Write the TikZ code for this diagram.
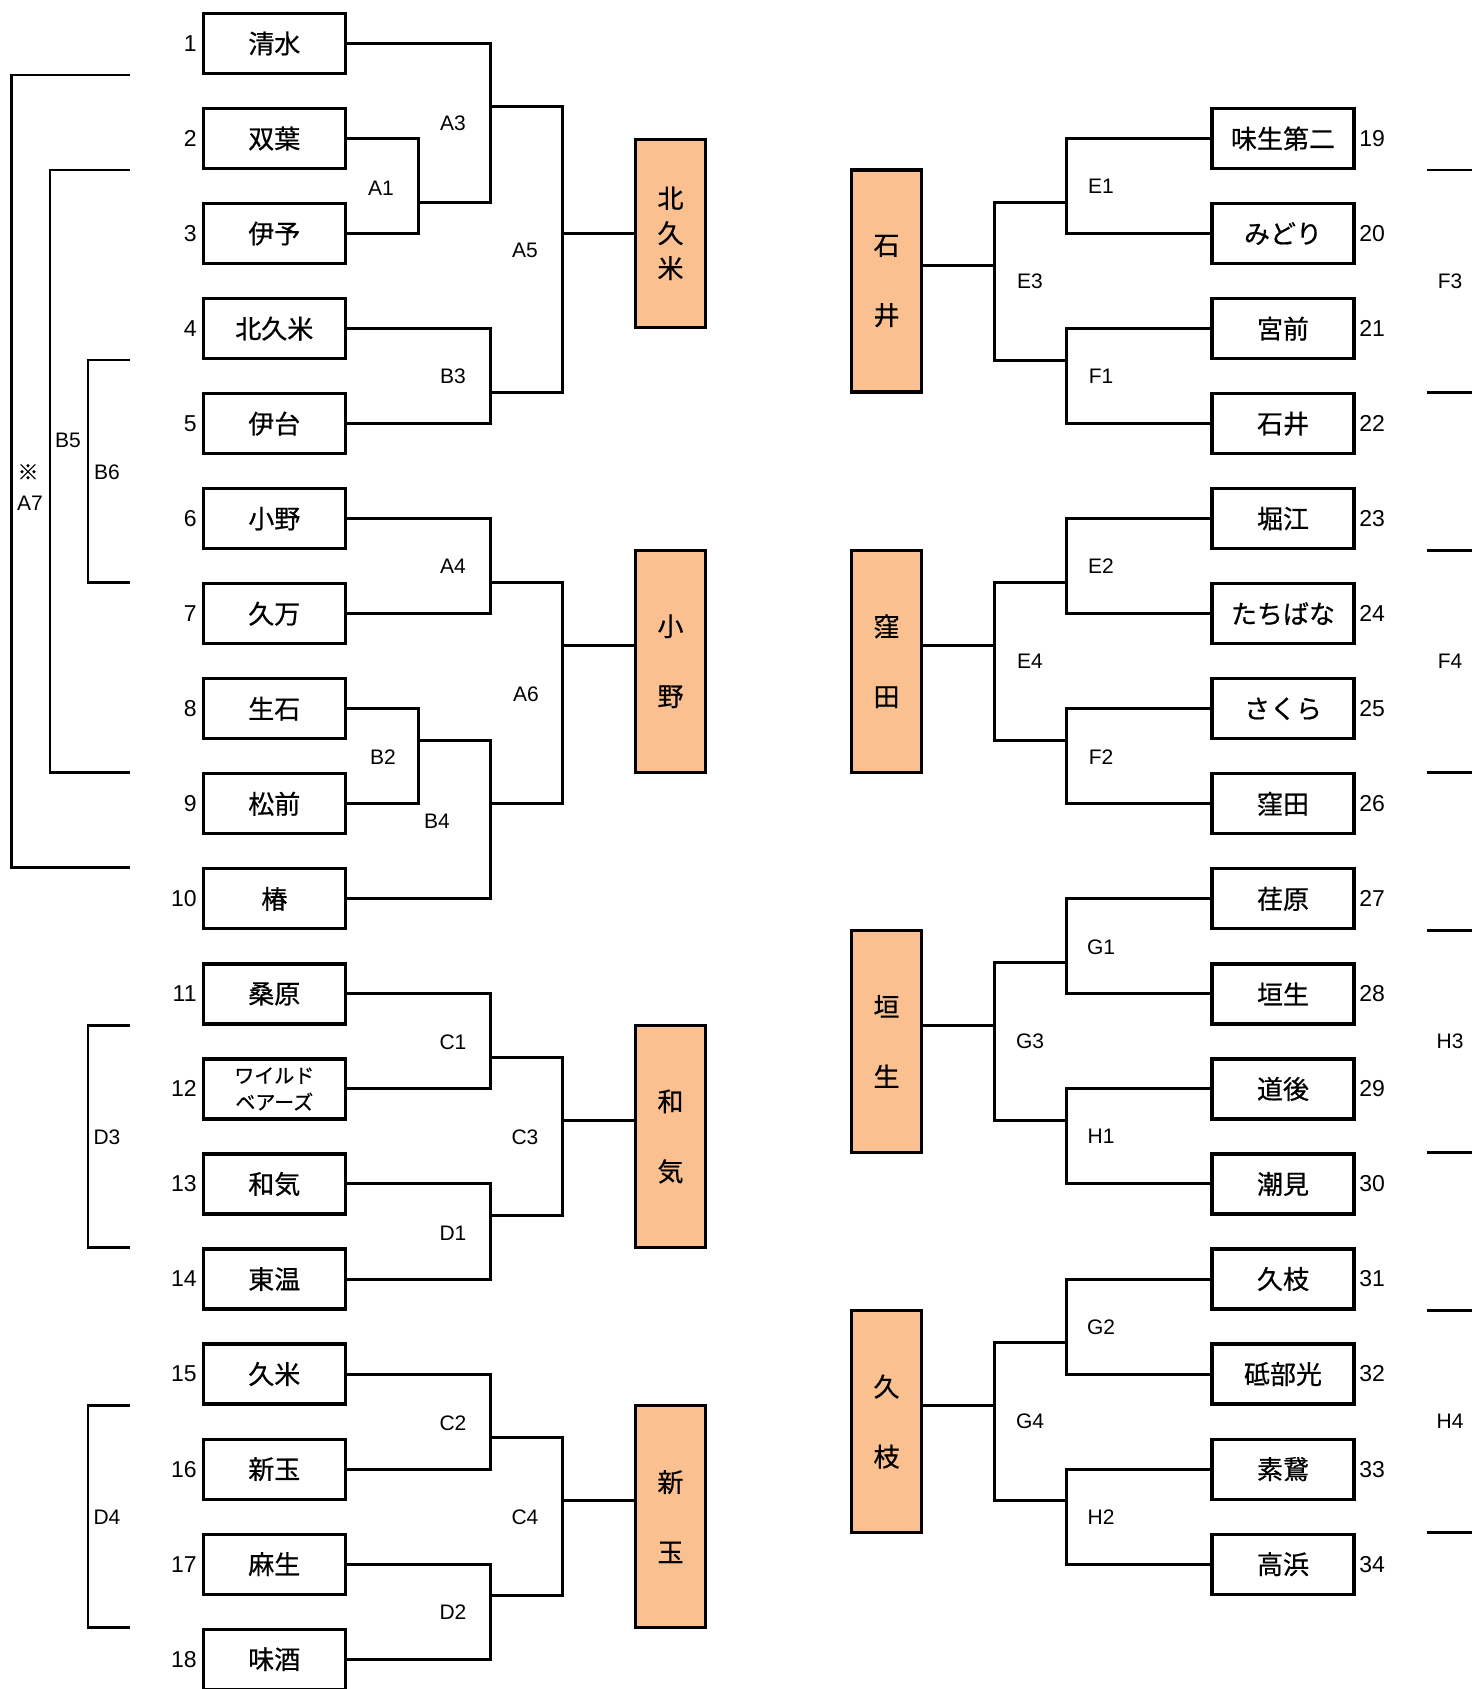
\documentclass[tikz,border=0pt]{standalone}
\usepackage{fontspec}
\setmainfont{Liberation Sans}
\newfontfamily\jp[FakeBold=0.6]{Noto Sans CJK JP}
\definecolor{orangefill}{HTML}{FAC090}
\begin{document}
\begin{tikzpicture}[x=0.5pt,y=-0.5pt,
  team/.style={draw, line width=1.6pt, minimum width=71pt, minimum height=30pt, inner sep=0pt, font=\jp\fontsize{13}{15}\selectfont, align=center},
  winner/.style={draw, line width=1.6pt, fill=orangefill, minimum width=35pt, inner sep=0pt, font=\jp\fontsize{13}{17.5}\selectfont, align=center},
  num/.style={font=\fontsize{11.5}{13}\selectfont, inner sep=0pt},
  lbl/.style={font=\fontsize{10.5}{12}\selectfont, inner sep=0pt},
  br/.style={line width=1.5pt},
  fbr/.style={line width=1.35pt}
]
\useasboundingbox (0,0) rectangle (1471,1689);
\fill[white] (0,0) rectangle (1471,1689);

% ---------- team boxes, left ----------
\foreach \i/\n in {1/清水,2/双葉,3/伊予,4/北久米,5/伊台,6/小野,7/久万,8/生石,9/松前,10/椿,11/桑原,13/和気,14/東温,15/久米,16/新玉,17/麻生,18/味酒}{
  \node[team] (t\i) at (274.3,{43.5+95.04*(\i-1)}) {\n};
  \node[num,anchor=east] (n\i) at (197,{43.5+95.04*(\i-1)}) {\i};
}
\node[team,font=\jp\fontsize{10}{13.3}\selectfont] (t12) at (274.3,{43.5+95.04*11}) {ワイルド\\ベアーズ};
\node[num,anchor=east] (n12) at (197,{43.5+95.04*11}) {12};

% ---------- team boxes, right ----------
\foreach \i/\n in {19/味生第二,20/みどり,21/宮前,22/石井,23/堀江,24/たちばな,25/さくら,26/窪田,27/荏原,28/垣生,29/道後,30/潮見,31/久枝,32/砥部光,33/素鵞,34/高浜}{
  \node[team] (t\i) at (1283,{43.5+95.04*(\i-18)}) {\n};
  \node[num,anchor=west] (n\i) at (1359,{43.5+95.04*(\i-18)}) {\i};
}

% ---------- winner boxes ----------
\node[winner, minimum height=94pt] (w1) at (670.5,233.4) {北\\久\\米};
\node[winner, minimum height=111pt] (w2) at (670.5,661.3) {小\\[17.5pt]野};
\node[winner, minimum height=111pt] (w3) at (670.5,1136.5) {和\\[17.5pt]気};
\node[winner, minimum height=111pt] (w4) at (670.5,1516.6) {新\\[17.5pt]玉};
\node[winner, minimum height=111pt] (w5) at (886.5,281.1) {石\\[17.5pt]井};
\node[winner, minimum height=111pt] (w6) at (886.5,661.3) {窪\\[17.5pt]田};
\node[winner, minimum height=111pt] (w7) at (886.5,1041.4) {垣\\[17.5pt]生};
\node[winner, minimum height=111pt] (w8) at (886.5,1421.6) {久\\[17.5pt]枝};

% ---------- left brackets ----------
\coordinate (A1) at (418,202.1);
\coordinate (A3) at (490,107);
\coordinate (B3) at (490,392.2);
\coordinate (A5) at (562,233.6);
\draw[br] (t2.east) -| (A1) |- (t3.east);
\draw[br] (t1.east) -| (A3) |- (A1);
\draw[br] (t4.east) -| (B3) |- (t5.east);
\draw[br] (A3) -| (A5) |- (B3);
\draw[br] (A5) -- (A5 -| w1.west);

\coordinate (A4) at (490,582.2);
\coordinate (B2) at (418,740.3);
\coordinate (B4) at (490,803.8);
\coordinate (A6) at (562,645.2);
\draw[br] (t6.east) -| (A4) |- (t7.east);
\draw[br] (t8.east) -| (B2) |- (t9.east);
\draw[br] (B2) -| (B4) |- (t10.east);
\draw[br] (A4) -| (A6) |- (B4);
\draw[br] (A6) -- (A6 -| w2.west);

\coordinate (C1) at (490,1057.4);
\coordinate (D1) at (490,1215.5);
\coordinate (C3) at (562,1120.4);
\draw[br] (t11.east) -| (C1) |- (t12.east);
\draw[br] (t13.east) -| (D1) |- (t14.east);
\draw[br] (C1) -| (C3) |- (D1);
\draw[br] (C3) -- (C3 -| w3.west);

\coordinate (C2) at (490,1437.6);
\coordinate (D2) at (490,1595.6);
\coordinate (C4) at (562,1500.6);
\draw[br] (t15.east) -| (C2) |- (t16.east);
\draw[br] (t17.east) -| (D2) |- (t18.east);
\draw[br] (C2) -| (C4) |- (D2);
\draw[br] (C4) -- (C4 -| w4.west);

% ---------- right brackets ----------
\coordinate (E1) at (1066,202.1);
\coordinate (F1) at (1066,360.1);
\coordinate (E3) at (994,265.1);
\draw[br] (t19.west) -| (E1) |- (t20.west);
\draw[br] (t21.west) -| (F1) |- (t22.west);
\draw[br] (E1) -| (E3) |- (F1);
\draw[br] (E3) -- (E3 -| w5.east);

\coordinate (E2) at (1066,582.2);
\coordinate (F2) at (1066,740.3);
\coordinate (E4) at (994,645.2);
\draw[br] (t23.west) -| (E2) |- (t24.west);
\draw[br] (t25.west) -| (F2) |- (t26.west);
\draw[br] (E2) -| (E4) |- (F2);
\draw[br] (E4) -- (E4 -| w6.east);

\coordinate (G1) at (1066,962.4);
\coordinate (H1) at (1066,1120.4);
\coordinate (G3) at (994,1025.4);
\draw[br] (t27.west) -| (G1) |- (t28.west);
\draw[br] (t29.west) -| (H1) |- (t30.west);
\draw[br] (G1) -| (G3) |- (H1);
\draw[br] (G3) -- (G3 -| w7.east);

\coordinate (G2) at (1066,1342.6);
\coordinate (H2) at (1066,1500.6);
\coordinate (G4) at (994,1405.6);
\draw[br] (t31.west) -| (G2) |- (t32.west);
\draw[br] (t33.west) -| (H2) |- (t34.west);
\draw[br] (G2) -| (G4) |- (H2);
\draw[br] (G4) -- (G4 -| w8.east);

% ---------- far left brackets ----------
\coordinate (A7a) at (130,75);     \coordinate (A7b) at (130,867.4);
\coordinate (B5a) at (130,170);    \coordinate (B5b) at (130,772.3);
\coordinate (B6a) at (130,360.1);  \coordinate (B6b) at (130,582.2);
\coordinate (D3a) at (130,1025.4); \coordinate (D3b) at (130,1247.5);
\coordinate (D4a) at (130,1405.6); \coordinate (D4b) at (130,1627.7);
\draw[fbr] (A7a) -- (11.5,75) -- (11.5,867.4) -- (A7b);
\draw[fbr] (B5a) -- (50,170) -- (50,772.3) -- (B5b);
\draw[fbr] (B6a) -- (88,360.1) -- (88,582.2) -- (B6b);
\draw[fbr] (D3a) -- (88,1025.4) -- (88,1247.5) -- (D3b);
\draw[fbr] (D4a) -- (88,1405.6) -- (88,1627.7) -- (D4b);

% ---------- far right lines ----------
\foreach \k/\y in {1/170,2/392.2,3/550.2,4/772.3,5/930.4,6/1152.5,7/1310.5,8/1532.6}{
  \coordinate (R\k a) at (1427,\y);
  \coordinate (R\k b) at (1474,\y);
  \draw[fbr] (R\k a) -- (R\k b);
}

% ---------- labels ----------
\node[lbl] (lA3) at (453,123) {A3};
\node[lbl] (lA1) at (381,188) {A1};
\node[lbl] (lA5) at (525,250) {A5};
\node[lbl] (lB3) at (453,376) {B3};
\node[lbl] (lA4) at (453,566) {A4};
\node[lbl] (lA6) at (526,694) {A6};
\node[lbl] (lB2) at (383,757) {B2};
\node[lbl] (lB4) at (437,821) {B4};
\node[lbl] (lC1) at (453,1042) {C1};
\node[lbl] (lC3) at (525,1137) {C3};
\node[lbl] (lD1) at (453,1233) {D1};
\node[lbl] (lC2) at (453,1423) {C2};
\node[lbl] (lC4) at (525,1517) {C4};
\node[lbl] (lD2) at (453,1612) {D2};

\node[lbl,font=\jp\fontsize{10.5}{12}\selectfont] (lmark) at (28,472) {※};
\node[lbl] (lA7) at (30,503) {A7};
\node[lbl] (lB5) at (68,440) {B5};
\node[lbl] (lB6) at (107,472) {B6};
\node[lbl] (lD3) at (107,1137) {D3};
\node[lbl] (lD4) at (107,1517) {D4};

\node[lbl] (lE1) at (1101,186) {E1};
\node[lbl] (lE3) at (1030,281) {E3};
\node[lbl] (lF1) at (1101,376) {F1};
\node[lbl] (lE2) at (1101,566) {E2};
\node[lbl] (lE4) at (1030,661) {E4};
\node[lbl] (lF2) at (1101,757) {F2};
\node[lbl] (lG1) at (1101,947) {G1};
\node[lbl] (lG3) at (1030,1041) {G3};
\node[lbl] (lH1) at (1101,1136) {H1};
\node[lbl] (lG2) at (1101,1327) {G2};
\node[lbl] (lG4) at (1030,1421) {G4};
\node[lbl] (lH2) at (1101,1517) {H2};

\node[lbl] (lF3) at (1450,281) {F3};
\node[lbl] (lF4) at (1450,661) {F4};
\node[lbl] (lH3) at (1450,1041) {H3};
\node[lbl] (lH4) at (1450,1421) {H4};
\end{tikzpicture}
\end{document}
